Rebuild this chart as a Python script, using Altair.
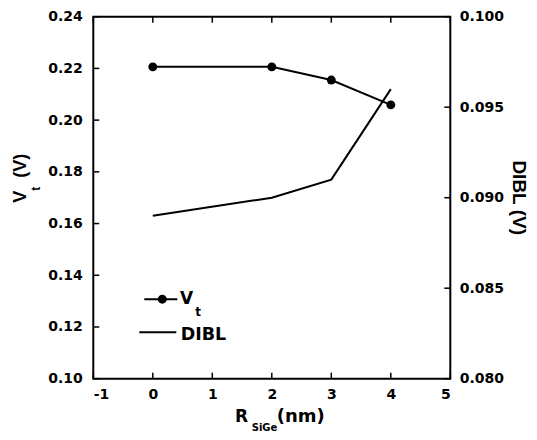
import altair as alt
import pandas as pd

# ---- data ----
r_sige = [0, 2, 3, 4]
vt = [0.2206, 0.2206, 0.2155, 0.2059]
dibl = [0.0890, 0.0900, 0.0910, 0.0960]

x_ticks = [-1, 0, 1, 2, 3, 4, 5]
vt_ticks = [0.10, 0.12, 0.14, 0.16, 0.18, 0.20, 0.22, 0.24]
dibl_ticks = [0.080, 0.085, 0.090, 0.095, 0.100]

df = pd.DataFrame({"x": r_sige, "vt": vt, "dibl": dibl})
df_xt = pd.DataFrame({"x": x_ticks})
df_vt = pd.DataFrame({"v": vt_ticks})
df_dt = pd.DataFrame({"v": dibl_ticks})
one = pd.DataFrame({"a": [0]})

W, H = 357, 362
FONT_H = "DejaVu Sans"        # horizontal text (looks wide in reference)
FONT_V = "Liberation Sans"    # rotated text

xs = alt.Scale(domain=[-1, 5], nice=False, zero=False)
vs = alt.Scale(domain=[0.10, 0.24], nice=False, zero=False)
ds = alt.Scale(domain=[0.080, 0.100], nice=False, zero=False)

ax_common = dict(grid=False, domain=False, ticks=False, title=None,
                 labelFont=FONT_H, labelFontWeight="bold", labelFontSize=14,
                 labelColor="black")

x_enc = alt.X("x:Q", scale=xs,
              axis=alt.Axis(values=x_ticks, labelExpr="'' + datum.value",
                            labelPadding=9, **ax_common))

vt_line = alt.Chart(df).mark_line(color="black", strokeWidth=2).encode(
    x=x_enc,
    y=alt.Y("vt:Q", scale=vs,
            axis=alt.Axis(orient="left", values=vt_ticks, format=".2f",
                          labelPadding=11, **ax_common)),
)
vt_pts = alt.Chart(df).mark_circle(color="black", size=80, opacity=1).encode(
    x=alt.X("x:Q", scale=xs), y=alt.Y("vt:Q", scale=vs))

left_ticks = alt.Chart(df_vt).mark_rule(color="black", strokeWidth=1.5).encode(
    y=alt.Y("v:Q", scale=vs), x=alt.value(0), x2=alt.value(6))
bottom_ticks = alt.Chart(df_xt).mark_rule(color="black", strokeWidth=1.5).encode(
    x=alt.X("x:Q", scale=xs), y=alt.value(H), y2=alt.value(H - 6))
top_ticks = alt.Chart(df_xt).mark_rule(color="black", strokeWidth=1.5).encode(
    x=alt.X("x:Q", scale=xs), y=alt.value(0), y2=alt.value(6))


def txt(s, x, y, size, font=FONT_H, angle=0, align="center", baseline="middle"):
    kw = dict(text=s, font=font, fontWeight="bold", fontSize=size, color="black",
              align=align, baseline=baseline)
    if angle:
        kw["angle"] = angle
    return alt.Chart(one).mark_text(**kw).encode(x=alt.value(x), y=alt.value(y))


# axis titles with subscripts
titles = [
    txt("V", -72, 180, 18, font=FONT_V, angle=270),
    txt("t", -57, 172, 12, font=FONT_V, angle=270),
    txt("(V)", -72, 149, 18, font=FONT_V, angle=270),
    txt("R", 141.7, 405.3, 17, align="left", baseline="alphabetic"),
    txt("SiGe", 158.4, 414.3, 10, align="left", baseline="alphabetic"),
    txt("(nm)", 183.4, 405.3, 18, align="left", baseline="alphabetic"),
    txt("DIBL (V)", 426, 181, 19, font=FONT_V, angle=90),
]

# legend
leg = [
    alt.Chart(one).mark_rule(color="black", strokeWidth=2).encode(
        x=alt.value(51), x2=alt.value(84), y=alt.value(282.5)),
    alt.Chart(one).mark_point(filled=True, shape="circle", size=80, color="black",
                              opacity=1).encode(x=alt.value(69), y=alt.value(282.5)),
    txt("V", 93.4, 282.3, 17),
    txt("t", 104.7, 295.3, 12),
    alt.Chart(one).mark_rule(color="black", strokeWidth=2).encode(
        x=alt.value(46), x2=alt.value(83), y=alt.value(315.5)),
    txt("DIBL", 87.4, 318.3, 17.5, align="left"),
]

vt_layer = alt.layer(vt_line, vt_pts, left_ticks, bottom_ticks, top_ticks, *titles, *leg)

dibl_line = alt.Chart(df).mark_line(color="black", strokeWidth=2).encode(
    x=alt.X("x:Q", scale=xs),
    y=alt.Y("dibl:Q", scale=ds,
            axis=alt.Axis(orient="right", values=dibl_ticks, format=".3f",
                          labelPadding=9, **ax_common)),
)
right_ticks = alt.Chart(df_dt).mark_rule(color="black", strokeWidth=1.5).encode(
    y=alt.Y("v:Q", scale=ds), x=alt.value(W), x2=alt.value(W - 6))
dibl_layer = alt.layer(dibl_line, right_ticks)

chart = alt.layer(vt_layer, dibl_layer).resolve_scale(y="independent").properties(
    width=W, height=H,
    autosize=alt.AutoSizeParams(type="none"),
    padding={"left": 85.3, "top": 8.7, "right": 78.7, "bottom": 53.3},
    background="white",
).configure_view(stroke="black", strokeWidth=2)

chart.save("out.html", embed_options={"renderer": "svg", "actions": False})
